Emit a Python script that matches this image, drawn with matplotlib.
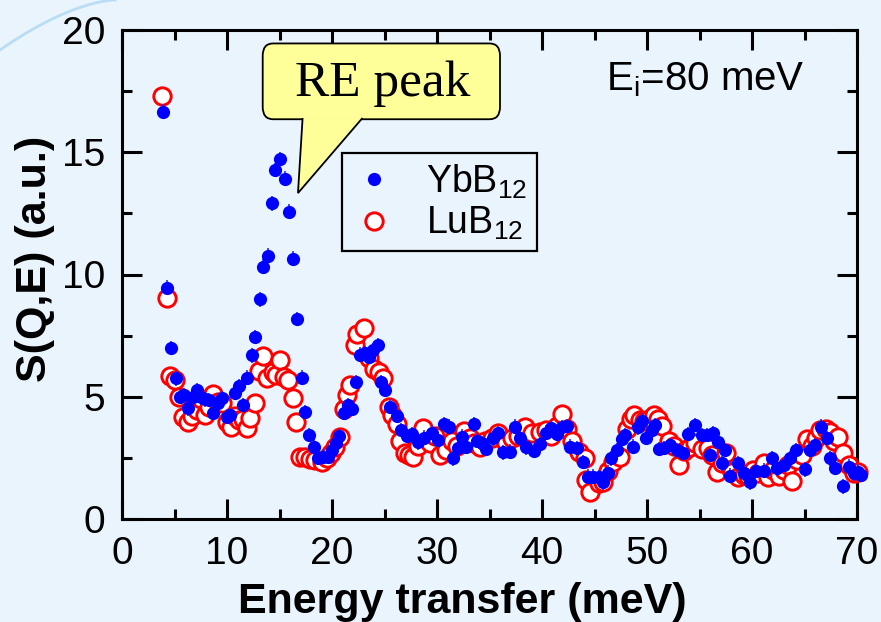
import numpy as np
import matplotlib
matplotlib.use("Agg")
import matplotlib.pyplot as plt
from matplotlib.patches import FancyBboxPatch, Polygon
from matplotlib.lines import Line2D

plt.rcParams['font.family'] = ['Liberation Sans', 'DejaVu Sans']
plt.rcParams['mathtext.fontset'] = 'custom'
plt.rcParams['mathtext.rm'] = 'Liberation Sans'
plt.rcParams['mathtext.default'] = 'regular'

BG = '#eaf4fc'

# YbB12 spectrum (energy in meV, intensity in a.u.)
yb_e = [3.87, 4.3, 4.7, 5.1, 5.5, 5.95, 6.25, 6.75, 7.1, 7.5, 7.9, 8.3, 8.7, 9.1, 9.5,
        9.97, 10.3, 10.75, 11.1, 11.5, 11.9, 12.35, 12.7, 13.1, 13.46, 13.9, 14.3, 14.6,
        15.05, 15.5, 15.9, 16.25, 16.7, 17.1, 17.45, 17.85, 18.3, 18.7, 19.1, 19.6, 20.0,
        20.4, 20.7, 21.1, 21.55, 21.95, 22.25, 22.7, 23.1, 23.5, 23.9, 24.35, 24.7, 25.05,
        25.5, 26.2, 26.6, 27.1, 27.6, 28.2, 28.8, 29.5, 30.1, 30.7, 31.1, 31.5, 32.0,
        32.35, 32.75, 33.5, 33.85, 34.3, 34.65, 35.3, 35.8, 36.3, 36.95, 37.4, 37.9, 38.5,
        39.2, 39.8, 40.35, 40.85, 41.4, 41.9, 42.35, 42.7, 43.3, 43.9, 44.4, 44.9, 45.4,
        45.8, 46.3, 46.6, 47.1, 47.65, 47.95, 48.7, 49.1, 49.5, 49.9, 50.45, 50.8, 51.1,
        51.6, 52.2, 52.9, 53.4, 53.9, 54.6, 55.2, 55.7, 56.0, 56.3, 56.8, 57.1, 57.4, 57.9,
        58.7, 59.2, 59.8, 60.4, 61.1, 61.9, 62.35, 63.0, 63.6, 64.2, 65.0, 65.5, 66.0,
        66.6, 67.1, 67.4, 67.95, 68.7, 69.2, 69.7, 70.05, 70.35]
yb_s = [16.66, 9.46, 7.0, 5.76, 5.0, 5.07, 4.52, 5.0, 5.27, 4.97, 4.9, 4.87, 4.33, 4.75, 4.95,
        4.18, 4.25, 5.15, 5.43, 4.66, 5.78, 6.7, 7.44, 8.98, 10.32, 10.77, 12.91, 14.27,
        14.72, 13.92, 12.57, 10.65, 8.18, 5.78, 4.38, 3.43, 2.96, 2.49, 2.55, 2.55, 2.82,
        3.1, 3.4, 4.33, 4.65, 4.5, 5.6, 6.72, 6.78, 6.64, 6.9, 7.1, 5.6, 5.27,
        4.6, 4.23, 3.64, 3.4, 3.47, 3.13, 3.33, 3.53, 3.23, 3.87, 3.78, 2.48, 2.9,
        3.37, 2.95, 3.87, 3.2, 3.1, 2.86, 3.3, 3.5, 2.72, 2.75, 3.78, 3.3, 2.93,
        2.78, 3.07, 3.53, 3.71, 3.47, 3.75, 3.81, 2.96, 2.9, 2.33, 1.73, 1.73, 1.7,
        1.5, 1.9, 2.48, 2.82, 3.27, 3.43, 2.96, 3.75, 4.02, 3.33, 3.64, 3.84, 2.86,
        2.9, 3.03, 2.82, 2.7, 3.47, 3.84, 3.43, 3.43, 2.62, 3.5, 3.16, 2.28, 2.82, 1.77,
        2.28, 1.87, 1.5, 1.97, 1.97, 2.5, 2.07, 2.21, 2.5, 2.82, 2.03, 2.82, 3.03,
        3.78, 3.3, 2.48, 2.1, 1.34, 2.14, 1.87, 1.94, 1.8]

# LuB12 spectrum
lu_e = [3.84, 4.25, 4.6, 5.05, 5.4, 5.8, 6.3, 6.7, 7.1, 7.5, 7.9, 8.3, 8.7, 9.1, 9.5,
        9.97, 10.4, 10.8, 11.1, 11.5, 11.9, 12.2, 12.67, 13.0, 13.46, 13.85, 14.4, 14.7,
        15.05, 15.4, 15.8, 16.3, 16.55, 16.95, 17.4, 17.9, 18.4, 19.0, 19.5, 19.9, 20.3,
        20.75, 21.1, 21.4, 21.7, 22.15, 22.4, 23.0, 23.5, 24.0, 24.5, 24.9, 25.4, 25.75,
        26.2, 26.5, 26.95, 27.3, 27.7, 28.2, 28.7, 29.3, 29.8, 30.3, 30.9, 31.4, 31.9,
        32.6, 33.1, 33.5, 34.1, 34.6, 35.2, 35.8, 36.6, 37.1, 37.7, 38.4, 39.0, 39.8,
        40.4, 40.9, 41.4, 41.9, 42.4, 42.9, 43.5, 44.1, 44.2, 44.6, 45.4, 45.8, 46.3,
        46.8, 47.4, 48.1, 48.45, 48.75, 49.3, 49.7, 50.2, 50.65, 51.0, 51.45, 52.1, 52.6,
        53.05, 53.5, 54.1, 54.6, 55.2, 55.8, 56.2, 56.7, 57.1, 57.5, 58.1, 58.7, 59.2,
        59.6, 60.1, 60.6, 61.1, 61.5, 62.0, 62.6, 63.0, 63.4, 63.85, 64.3, 64.8, 65.2,
        65.7, 66.1, 66.5, 67.0, 67.4, 67.8, 68.15, 68.65, 69.2, 69.7, 70.1]
lu_s = [17.3, 9.03, 5.84, 5.7, 5.0, 4.18, 3.98, 4.2, 4.46, 4.9, 4.25, 4.6, 5.1, 4.8, 4.73,
        3.98, 3.78, 4.2, 4.05, 4.1, 3.71, 4.12, 4.73, 6.05, 6.67, 5.75, 6.03, 5.9,
        6.5, 5.82, 5.7, 4.95, 3.98, 2.55, 2.52, 2.45, 2.4, 2.35, 2.5, 2.7, 2.96,
        3.37, 4.5, 5.07, 5.48, 7.1, 7.55, 7.8, 6.6, 6.15, 6.03, 5.75, 4.6, 4.25,
        3.87, 3.2, 2.7, 2.6, 2.52, 3.0, 3.71, 3.1, 3.4, 2.6, 2.82, 3.2, 3.0,
        3.6, 3.3, 3.1, 2.96, 3.2, 3.3, 3.5, 3.1, 3.3, 3.4, 3.75, 3.5, 3.57,
        3.64, 3.4, 3.8, 4.3, 3.7, 3.2, 2.75, 2.5, 1.6, 1.12, 1.46, 1.5, 1.95,
        2.35, 2.55, 3.67, 4.1, 4.25, 4.05, 4.0, 4.1, 4.25, 4.1, 3.8, 3.2, 3.0,
        2.2, 2.8, 2.96, 3.1, 2.85, 2.9, 2.6, 1.94, 2.3, 2.68, 1.94, 1.7, 1.8,
        1.77, 2.0, 1.9, 2.3, 1.72, 2.0, 1.75, 2.0, 2.2, 1.57, 2.4, 2.6, 3.27,
        3.0, 3.3, 3.65, 3.7, 3.55, 3.2, 3.35, 2.68, 2.2, 1.9, 1.94]

yb_err = 0.3
lu_err = 0.2

fig = plt.figure(figsize=(8.81, 6.22), dpi=100, facecolor=BG)

# faint decorative arc in the slide corner
t = np.linspace(0, 1, 30)
arc_x = (115 * t) / 881
arc_y = 1 - (50 * (1 - t) ** 1.6) / 622
fig.add_artist(Line2D(arc_x, arc_y, color='#b8ddf4', lw=2, transform=fig.transFigure))

ax = fig.add_axes([122 / 881, 1 - 519 / 622, 735 / 881, 489 / 622])
ax.set_facecolor(BG)

ax.errorbar(lu_e, lu_s, yerr=lu_err, fmt='o', ms=12.5, mfc='white', mec='red', mew=2.1,
            ecolor='red', elinewidth=1, capsize=2.5, capthick=1, zorder=3, clip_on=False)
ax.errorbar(yb_e, yb_s, yerr=yb_err, fmt='o', ms=9.5, mfc='blue', mec='blue', mew=0,
            ecolor='#2b2bff', elinewidth=1.2, capsize=3, capthick=1.2, zorder=4, clip_on=False)

ax.set_xlim(0, 70)
ax.set_ylim(0, 20)
ax.set_xticks(range(0, 71, 10))
ax.set_xticks(range(5, 70, 10), minor=True)
ax.set_yticks(range(0, 21, 5))
ax.set_yticks([2.5, 7.5, 12.5, 17.5], minor=True)
ax.tick_params(which='both', direction='in', top=True, right=True, width=2.2, labelsize=28)
ax.tick_params(which='major', length=14.5, pad=12)
ax.tick_params(which='minor', length=7.5)
for sp in ax.spines.values():
    sp.set_linewidth(2.2)

fig.text(462 / 881, 1 - 602 / 622, 'Energy transfer (meV)', ha='center', va='center',
         fontsize=31, fontweight='bold')
fig.text(35 / 881, 1 - 259 / 622, 'S(Q,E) (a.u.)', ha='center', va='center',
         rotation=90, fontsize=31, fontweight='bold')

ax.text(0.929, 0.898, 'E$_i$=80 meV', transform=ax.transAxes, ha='right', va='center',
        fontsize=29)

# speech-bubble callout for the rare-earth peak
box = FancyBboxPatch((13.4, 16.35), 22.6, 3.1, boxstyle='round,pad=0,rounding_size=1.0',
                     mutation_aspect=0.5, fc='#ffff99', ec='black', lw=1.3, zorder=6,
                     clip_on=False)
ax.add_patch(box)
tail = Polygon([(17.2, 16.4), (16.76, 13.33), (22.9, 16.4)], closed=False, fc='#ffff99',
               ec='black', lw=1.3, zorder=7, clip_on=False, joinstyle='miter')
ax.add_patch(tail)
ax.text(24.8, 17.8, 'RE peak', fontsize=37, family='Liberation Serif', ha='center',
        va='center', zorder=8)

handles = [Line2D([], [], ls='none', marker='o', ms=9.5, mfc='blue', mec='blue', mew=0),
           Line2D([], [], ls='none', marker='o', ms=12.5, mfc='white', mec='red', mew=2.1)]
leg = ax.legend(handles, ['YbB$_{12}$', 'LuB$_{12}$'], loc='upper left',
                bbox_to_anchor=(0.299, 0.748), fontsize=27, frameon=True, fancybox=False,
                edgecolor='black', facecolor=BG, framealpha=1, borderpad=0.25,
                handletextpad=0.8, labelspacing=0.1, handlelength=1.2, borderaxespad=0)
leg.get_frame().set_linewidth(1.6)
leg.set_zorder(5)

fig.savefig('out.png', dpi=100, facecolor=BG)
